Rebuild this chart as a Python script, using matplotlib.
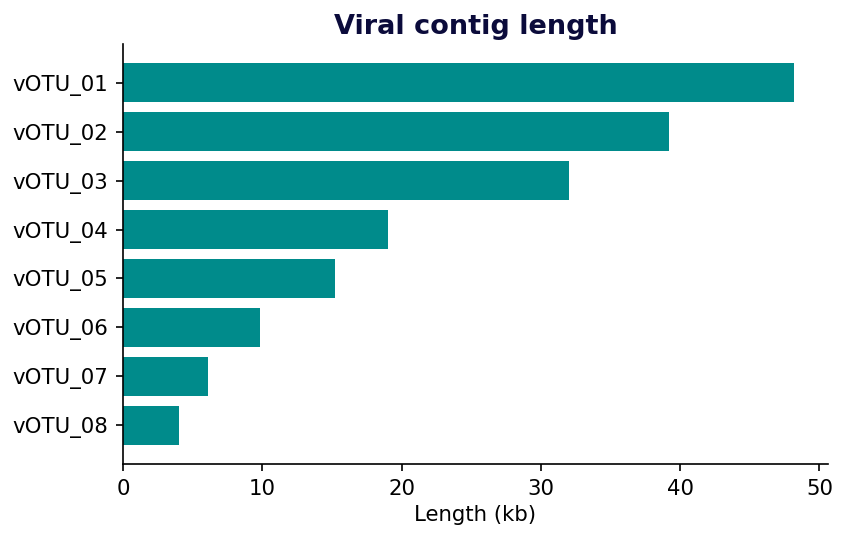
import matplotlib
matplotlib.use("Agg")
import matplotlib.pyplot as plt

# contig names and lengths (kb)
contigs = ["vOTU_01", "vOTU_02", "vOTU_03", "vOTU_04",
           "vOTU_05", "vOTU_06", "vOTU_07", "vOTU_08"]
lengths_kb = [48.2, 39.2, 32.0, 19.0, 15.2, 9.85, 6.1, 4.0]

fig, ax = plt.subplots(figsize=(5.64, 3.58), dpi=150)

ax.barh(contigs, lengths_kb, color="#008b8b")
ax.invert_yaxis()

ax.set_title("Viral contig length", fontsize=13, fontweight="bold",
             color="#0b0b3b", pad=5)
ax.set_xlabel("Length (kb)", fontsize=10.2, labelpad=3)
ax.tick_params(labelsize=10.2)
ax.spines["top"].set_visible(False)
ax.spines["right"].set_visible(False)

fig.subplots_adjust(left=0.1454, right=0.9787, top=0.918, bottom=0.136)
fig.savefig("out.png")
